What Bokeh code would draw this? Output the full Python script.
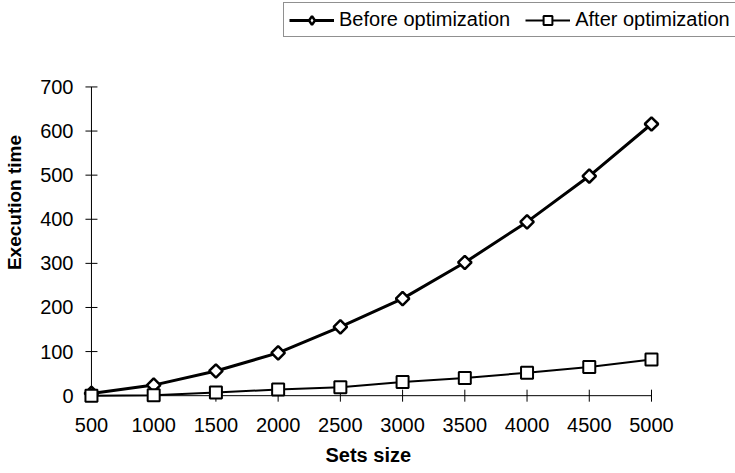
import math
from bokeh.plotting import figure
from bokeh.models import Range1d, Legend, LegendItem, FixedTicker, Title
from bokeh.embed import file_html
from bokeh.resources import INLINE

sets_size = [500, 1000, 1500, 2000, 2500, 3000, 3500, 4000, 4500, 5000]
before_opt = [5, 24, 56, 97, 156, 220, 302, 394, 498, 616]
after_opt = [0, 1, 7, 14, 19, 31, 40, 52, 65, 82]
y_ticks = [0, 100, 200, 300, 400, 500, 600, 700]

FONT = "Liberation Sans"

p = figure(width=735, height=473,
           x_range=Range1d(420, 5675), y_range=Range1d(-20, 896),
           output_backend="svg", toolbar_location=None,
           min_border_left=81, min_border_right=0,
           min_border_top=0, min_border_bottom=69)

p.xgrid.visible = False
p.ygrid.visible = False
p.outline_line_color = None
p.background_fill_color = "white"
p.border_fill_color = "white"

x0, x1 = sets_size[0], sets_size[-1]
y0, y1 = y_ticks[0], y_ticks[-1]

# axis lines and crossing tick marks
p.segment(x0=[x0, x0], y0=[y0, y0], x1=[x1, x0], y1=[y0, y1],
          line_color="black", line_width=1)
p.scatter(sets_size, [y0] * len(sets_size), marker="dash", angle=math.pi / 2,
          size=12, line_color="black", line_width=1)
p.scatter([x0] * len(y_ticks), y_ticks, marker="dash",
          size=12, line_color="black", line_width=1)

# legend-only key glyph (not drawn: NaN position) so the key shows a diamond
k1 = p.scatter(x=[float("nan")], y=[float("nan")], marker="square_pin",
               size=14, fill_color="white", line_color="black", line_width=2.5)
k1.glyph.marker = "diamond"

l1 = p.line(sets_size, before_opt, line_color="black", line_width=3)
s1 = p.scatter(sets_size, before_opt, marker="square", angle=math.pi / 4,
               size=9.5, fill_color="white", line_color="black", line_width=2.5)
l2 = p.line(sets_size, after_opt, line_color="black", line_width=2)
s2 = p.scatter(sets_size, after_opt, marker="square", size=12,
               fill_color="white", line_color="black", line_width=2)

xa = p.xaxis[0]
ya = p.yaxis[0]
xa.bounds = (x0, x1)
ya.bounds = (y0, y1)
xa.ticker = FixedTicker(ticks=sets_size)
ya.ticker = FixedTicker(ticks=y_ticks)

for ax in (xa, ya):
    ax.axis_line_color = None
    ax.major_tick_line_color = None
    ax.minor_tick_line_color = None
    ax.major_tick_in = 0
    ax.major_tick_out = 0
    ax.major_label_text_font = FONT
    ax.major_label_text_font_size = "20px"
    ax.major_label_text_color = "black"
    ax.axis_label_text_font = FONT
    ax.axis_label_text_font_size = "19px"
    ax.axis_label_text_font_style = "bold"
    ax.axis_label_text_color = "black"

ya.axis_label = "Execution time"
xa.major_label_standoff = 13
ya.major_label_standoff = 8
ya.axis_label_standoff = 12

x_title = Title(text="Sets size", align="left", offset=244, standoff=15,
                text_font=FONT, text_font_size="20px", text_font_style="bold",
                text_color="black")
p.add_layout(x_title, "below")

legend = Legend(items=[
    LegendItem(label="Before optimization", renderers=[l1, k1]),
    LegendItem(label="After optimization", renderers=[l2, s2]),
], orientation="horizontal", location=(202, 367))
legend.label_text_font = FONT
legend.label_text_font_size = "20px"
legend.label_text_color = "black"
legend.glyph_width = 45
legend.glyph_height = 22
legend.label_standoff = 5
legend.spacing = 15
legend.padding = 5
legend.margin = 0
legend.border_line_color = "#222222"
legend.border_line_width = 1
legend.background_fill_color = "white"
legend.background_fill_alpha = 1
p.add_layout(legend, "center")

open("out.html", "w").write(file_html(p, INLINE))
